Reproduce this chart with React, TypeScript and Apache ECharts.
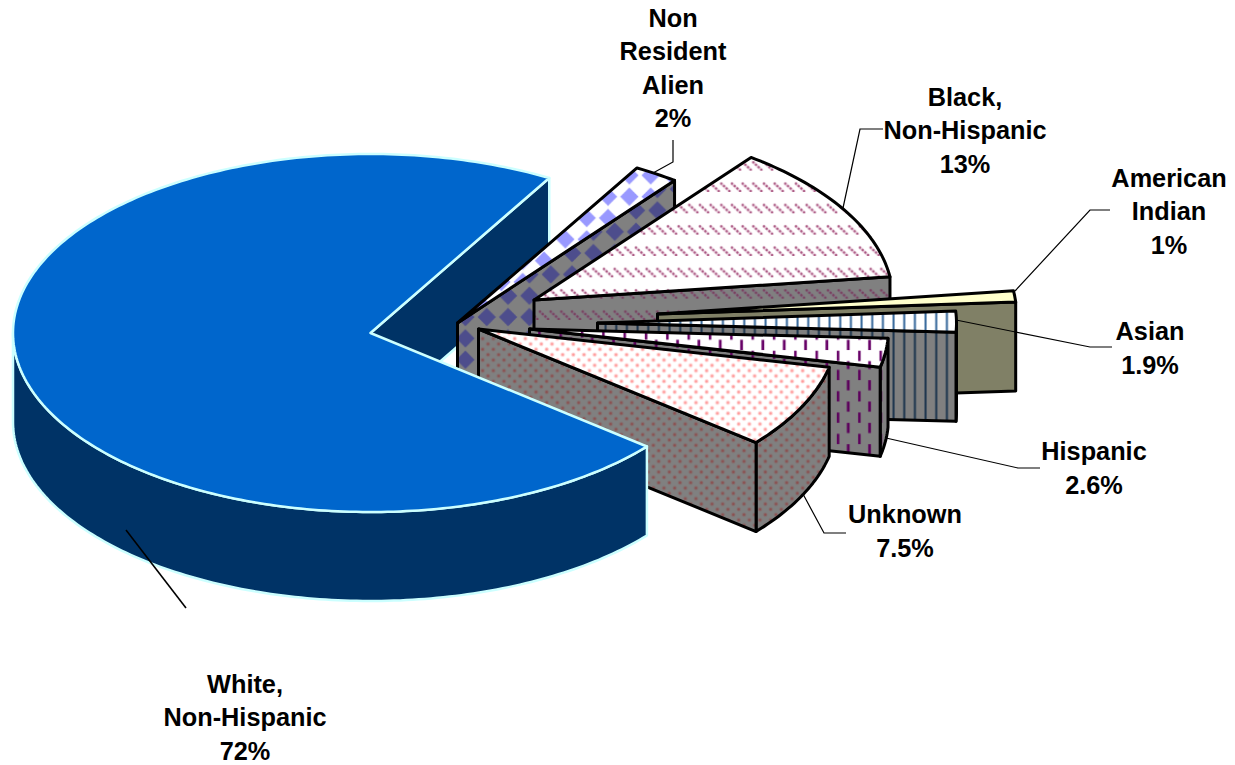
import React, { useEffect, useRef } from "react";
import * as echarts from "echarts";

// ---- data (clockwise from the first slice at the top) ----
const categories = ["Non Resident Alien", "Black, Non-Hispanic", "American Indian", "Asian", "Hispanic", "Unknown", "White, Non-Hispanic"];
const shareValues = [2, 12.6, 1, 1.9, 2.6, 7.5, 72.4];
const labelLines = [
  ["Non", "Resident", "Alien", "2%"],
  ["Black,", "Non-Hispanic", "13%"],
  ["American", "Indian", "1%"],
  ["Asian", "1.9%"],
  ["Hispanic", "2.6%"],
  ["Unknown", "7.5%"],
  ["White,", "Non-Hispanic", "72%"],
];

// ---- layout ----
const CX = 370.5, CY = 333, RX = 357.5, RX_EXPLODED = 359, RY = 179, DEPTH = 89, START_ANGLE = 60;
const explodeX = [87, 163.5, 287, 227, 159, 108, 0];
const explodeY = [-10, -33, -19, -10, -4, -4, 0];
const labelX = [673, 965, 1169, 1150, 1094, 905, 245];
const labelY = [68, 130, 211, 348, 468, 531, 717];
const leaders = [
  [[653, 173], [673, 162], [673, 140]],
  [[843, 208], [860, 129], [883, 129]],
  [[1015, 291], [1090, 210], [1110, 210]],
  [[956, 320], [1090, 347], [1112, 347]],
  [[886, 438], [1018, 468], [1040, 468]],
  [[803, 494], [824, 533], [846, 533]],
  [[126, 530], [186, 608]],
];

// Tiles are drawn 3x and scaled back by the pattern transform. One unit is 64/3 px.
const K = 3;
const U = 64 / K;
function tile(w: number, h: number, bg: string, draw: (c: CanvasRenderingContext2D) => void) {
  const cv = document.createElement("canvas");
  cv.width = Math.round(w * K);
  cv.height = Math.round(h * K);
  const c = cv.getContext("2d") as CanvasRenderingContext2D;
  c.scale(K, K);
  c.fillStyle = bg;
  c.fillRect(0, 0, w, h);
  draw(c);
  return { type: "pattern", image: cv, repeat: "repeat", imageWidth: cv.width, imageHeight: cv.height, scaleX: 1 / K, scaleY: 1 / K } as any;
}
function diamond(bg: string, fg: string, px: number, py: number) {
  return tile(U, U, bg, (c) => {
    c.fillStyle = fg;
    for (let i = -1; i <= 1; i++) for (let j = -1; j <= 1; j++) {
      const x = px + i * U, y = py + j * U, r = U / 2 - 1.5;
      c.beginPath();
      c.moveTo(x, y - r); c.lineTo(x + r, y); c.lineTo(x, y + r); c.lineTo(x - r, y);
      c.closePath(); c.fill();
    }
  });
}
function diagDash(bg: string, fg: string, halo: string) {
  return tile(U / 2, U, bg, (c) => {
    for (let i = -2; i <= 1; i++) {
      const x0 = i * U / 2 + 6.7, y0 = 13;
      c.strokeStyle = halo;
      c.lineWidth = 3;
      c.lineCap = "round";
      c.beginPath();
      c.moveTo(x0, y0); c.lineTo(x0 + 8, y0 + 7.4);
      c.stroke();
      c.fillStyle = fg;
      for (let n = 0; n < 4; n++) {
        c.beginPath();
        c.arc(x0 + n * 2.67, y0 + n * 2.47, 1.15, 0, 7);
        c.fill();
      }
    }
  });
}
function vLines(bg: string, fg: string) {
  return tile(U / 2, U / 2, bg, (c) => {
    c.fillStyle = fg;
    c.fillRect(7.2, 0, 2, U / 2);
  });
}
function vDash(bg: string, fg: string, yOff: number) {
  return tile(U, U, bg, (c) => {
    c.fillStyle = fg;
    for (const j of [-1, 0, 1]) {
      c.fillRect(4.7, yOff + 9.4 + j * U, 2.6, U / 2 - 0.4);
      c.fillRect(14.9, yOff - 1.6 + j * U, 2.6, U / 2 - 0.4);
    }
  });
}
function dots(bg: string, fg: string, halo: string) {
  return tile(U / 2, U / 2, bg, (c) => {
    for (const [x, y] of [[2.67, 8], [8, 2.67]]) {
      c.fillStyle = halo;
      c.beginPath(); c.arc(x, y, 2.2, 0, 7); c.fill();
      c.fillStyle = fg;
      c.beginPath(); c.arc(x, y, 1.2, 0, 7); c.fill();
    }
  });
}

export default function App() {
  const ref = useRef<HTMLDivElement>(null);
  useEffect(() => {
    if (!ref.current) return;
    const chart = echarts.init(ref.current, undefined, { renderer: "svg" });

    const topFill: any[] = [
      diamond("#FFFFFF", "#9999FF", 10.7, 4.7),
      diagDash("#FFFFFF", "#A8537F", "#EBD3E0"),
      "#FFFFCC",
      vLines("#FFFFFF", "#336699"),
      vDash("#FFFFFF", "#660066", 0),
      dots("#FFFFFF", "#FF9999", "#FFD6D6"),
      "#0066CC",
    ];
    const wallFill: any[] = [
      diamond("#808080", "#4D4D8C", 17.4, 18.4),
      diagDash("#808080", "#7A3F5E", "#807080"),
      "#808066",
      vLines("#808080", "#1A334D"),
      vDash("#808080", "#5C005C", -2.3),
      dots("#808080", "#8C4F4F", "#857070"),
      "#003366",
    ];
    const strokeColor = ["#000", "#000", "#000", "#000", "#000", "#000", "#CCFFFF"];

    const boundaries: number[] = [START_ANGLE];
    shareValues.forEach((v, i) => boundaries.push(boundaries[i] - v * 3.6));

    const renderItem = (params: any, api: any) => {
      const i = params.dataIndex;
      const a1 = boundaries[i];
      const a2 = a1 - api.value(0) * 3.6;
      const ax = CX + explodeX[i], ay = CY + explodeY[i];
      const isWhite = i === shareValues.length - 1;
      const rx = isWhite ? RX : RX_EXPLODED;
      const pt = (deg: number, d = 0) => {
        const t = (deg * Math.PI) / 180;
        return [ax + rx * Math.cos(t), ay - RY * Math.sin(t) + d];
      };
      const arc = (from: number, to: number, d = 0) => {
        const n = Math.max(2, Math.ceil(Math.abs(from - to)));
        const out: number[][] = [];
        for (let k = 0; k <= n; k++) out.push(pt(from + ((to - from) * k) / n, d));
        return out;
      };
      const base = isWhite ? 100 : 10 + i * 5;
      const line = { stroke: strokeColor[i], lineWidth: isWhite ? 2.5 : 3, lineJoin: "round" };
      const children: any[] = [];
      const wf = Math.min(a1, 0), wt = Math.max(a2, -180);
      if (wf > wt) {
        children.push({
          type: "polygon", z2: base,
          shape: { points: [...arc(wf, wt), ...arc(wt, wf, DEPTH)] },
          style: { fill: wallFill[i], ...line },
        });
      }
      if (Math.cos((a2 * Math.PI) / 180) > 0) {
        const e = pt(a2), e2 = pt(a2, DEPTH);
        children.push({
          type: "polygon", z2: isWhite ? 1 : base + 1,
          shape: { points: [[ax, ay], e, e2, [ax, ay + DEPTH]] },
          style: { fill: wallFill[i], ...line },
        });
      }
      children.push({
        type: "polygon", z2: base + 2,
        shape: { points: [[ax, ay], ...arc(a1, a2)] },
        style: { fill: topFill[i], ...line },
      });
      return { type: "group", children };
    };

    const graphicEls: any[] = [];
    leaders.forEach((pts, i) => {
      graphicEls.push({
        type: "polyline", z: 20, silent: true,
        shape: { points: pts },
        style: { stroke: "#000", lineWidth: i === leaders.length - 1 ? 1.6 : 1.2, fill: "none" },
      });
    });
    labelLines.forEach((lines, i) => {
      graphicEls.push({
        type: "text", z: 21, silent: true, x: labelX[i], y: labelY[i],
        style: {
          text: lines.join("\n"), align: "center", verticalAlign: "middle",
          font: 'bold 25.3px "Liberation Sans", Arial, sans-serif', lineHeight: 33.5, fill: "#000",
        },
      });
    });

    chart.setOption({
      animation: false,
      backgroundColor: "#FFFFFF",
      tooltip: { show: false },
      series: [{
        type: "custom", coordinateSystem: "none", silent: true,
        renderItem,
        data: shareValues.map((v, i) => ({ name: categories[i], value: [v] })),
      }],
      graphic: { elements: graphicEls },
    });
    return () => chart.dispose();
  }, []);
  return <div ref={ref} style={{ position: "absolute", left: 0, top: 0, width: 1235, height: 765 }} />;
}
